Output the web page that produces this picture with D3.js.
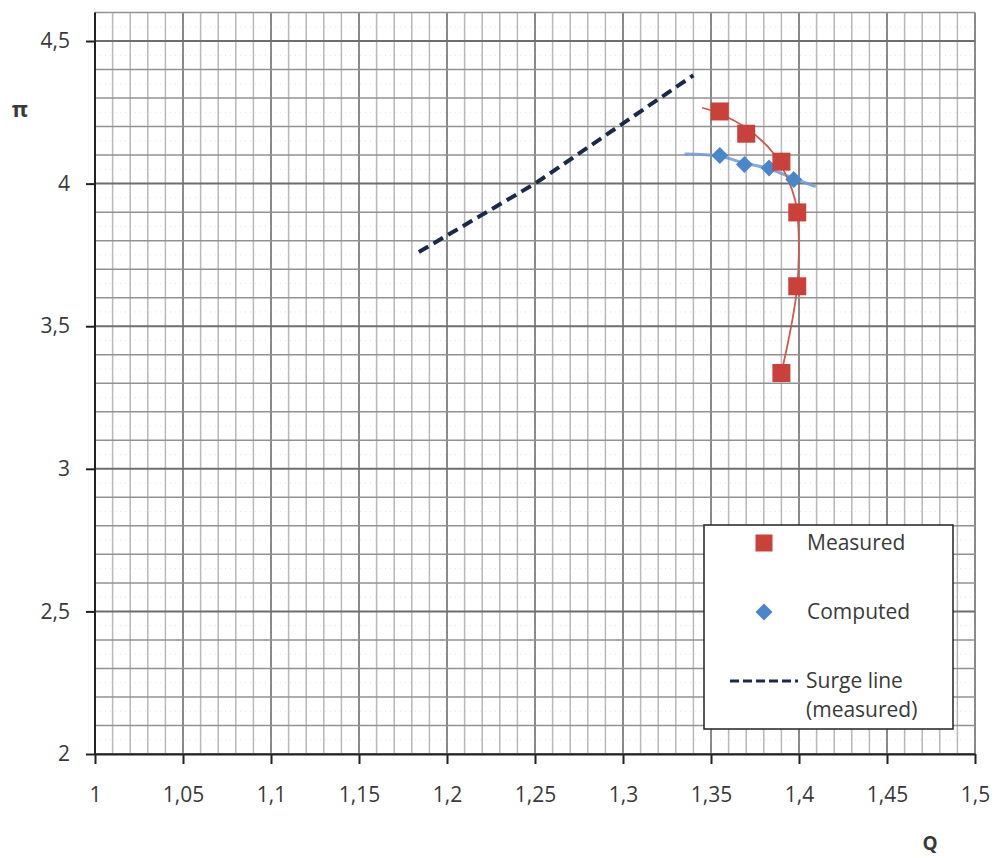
<!DOCTYPE html>
<html>
<head>
<meta charset="utf-8">
<script src="https://cdn.jsdelivr.net/npm/d3@7"></script>
<style>
  body { margin: 0; background: #fff; }
  text { font-family: "Open Sans", sans-serif; fill: #3a3a3a; }
</style>
</head>
<body>
<svg id="svg" width="995" height="858"></svg>
<script>
// values
var xTicks = [1, 1.05, 1.1, 1.15, 1.2, 1.25, 1.3, 1.35, 1.4, 1.45, 1.5];
var yTicks = [2, 2.5, 3, 3.5, 4, 4.5];

var measuredQ  = [1.355, 1.370, 1.390, 1.399, 1.399, 1.390];
var measuredPi = [4.253, 4.175, 4.077, 3.899, 3.640, 3.336];

var computedQ  = [1.355, 1.369, 1.383, 1.397];
var computedPi = [4.099, 4.067, 4.055, 4.014];

// trend lines (as drawn in the picture)
var measuredFitQ  = [1.345, 1.355, 1.370, 1.385, 1.396, 1.399, 1.399, 1.390];
var measuredFitPi = [4.266, 4.245, 4.195, 4.110, 3.980, 3.899, 3.640, 3.336];
var computedFitQ  = [1.335, 1.355, 1.369, 1.383, 1.397, 1.4095];
var computedFitPi = [4.104, 4.096, 4.072, 4.052, 4.018, 3.990];

var surgeQ  = [1.184, 1.25, 1.34];
var surgePi = [3.76, 4.0, 4.38];

var legendLabels = ["Measured", "Computed", "Surge line", "(measured)"];

var svg = d3.select("#svg");

var x = d3.scaleLinear().domain([1, 1.5]).range([95, 975]);
var y = d3.scaleLinear().domain([2, 4.6]).range([754, 12.5]);

var comma = function(d) { return String(+d.toFixed(2)).replace(".", ","); };

// grid
var grid = svg.append("g");
grid.selectAll("line.hdot")
  .data(d3.range(2.05, 4.6, 0.1))
  .enter().append("line")
  .attr("x1", 95).attr("x2", 975)
  .attr("y1", function(d) { return y(d); }).attr("y2", function(d) { return y(d); })
  .attr("stroke", "#e4e4e4").attr("stroke-width", 1).attr("stroke-dasharray", "1,4");

grid.selectAll("line.v")
  .data(d3.range(1, 1.5001, 0.01))
  .enter().append("line")
  .attr("x1", function(d) { return x(d); }).attr("x2", function(d) { return x(d); })
  .attr("y1", y(4.6)).attr("y2", y(2))
  .attr("stroke", function(d, i) { return i % 5 == 0 ? "#8a8a8a" : "#b8b8b8"; })
  .attr("stroke-width", function(d, i) { return i % 5 == 0 ? 2 : 1.5; });

grid.selectAll("line.h")
  .data(d3.range(2, 4.6001, 0.1))
  .enter().append("line")
  .attr("x1", 95).attr("x2", 975)
  .attr("y1", function(d) { return y(d); }).attr("y2", function(d) { return y(d); })
  .attr("stroke", function(d, i) { return i % 5 == 0 ? "#6e6e6e" : "#929292"; })
  .attr("stroke-width", function(d, i) { return i % 5 == 0 ? 2 : 1.5; });

// axes
var xAxis = svg.append("g")
  .attr("transform", "translate(0,754)")
  .call(d3.axisBottom(x).tickValues(xTicks).tickFormat(comma).tickSize(10).tickSizeOuter(0).tickPadding(23));
var yAxis = svg.append("g")
  .attr("transform", "translate(95,0)")
  .call(d3.axisLeft(y).tickValues(yTicks).tickFormat(comma).tickSize(9).tickSizeOuter(0).tickPadding(16));

[xAxis, yAxis].forEach(function(a) {
  a.selectAll("path.domain").attr("stroke", "#222").attr("stroke-width", 2);
  a.selectAll(".tick line").attr("stroke", "#222").attr("stroke-width", 2);
  a.selectAll("text").attr("font-size", 21).attr("font-family", "Open Sans").attr("fill", "#3a3a3a");
});
yAxis.select("path.domain").attr("d", "M0," + y(4.6) + "V754");

svg.append("text").attr("x", 20).attr("y", 117).attr("text-anchor", "middle")
  .attr("font-size", 22).attr("font-weight", "bold").text("π");
svg.append("text").attr("x", 930).attr("y", 850).attr("text-anchor", "middle")
  .attr("font-size", 19).attr("font-weight", "bold").text("Q");

var zip = function(a, b) { return a.map(function(v, i) { return [v, b[i]]; }); };
var line = d3.line().x(function(d) { return x(d[0]); }).y(function(d) { return y(d[1]); });

// surge line
svg.append("path").datum(zip(surgeQ, surgePi))
  .attr("d", line).attr("fill", "none")
  .attr("stroke", "#1c2a4a").attr("stroke-width", 4).attr("stroke-dasharray", "11,6");

// trend lines
svg.append("path").datum(zip(computedFitQ, computedFitPi))
  .attr("d", line.curve(d3.curveCatmullRom)).attr("fill", "none")
  .attr("stroke", "#6e9bd6").attr("stroke-width", 3).attr("opacity", 0.85);
svg.append("path").datum(zip(measuredFitQ, measuredFitPi))
  .attr("d", line.curve(d3.curveCatmullRom)).attr("fill", "none")
  .attr("stroke", "#d2574d").attr("stroke-width", 1.8);

// markers
var square = d3.symbol().type(d3.symbolSquare).size(18 * 18);
var diamond = "M0,-8.5L8.5,0L0,8.5L-8.5,0Z";

svg.selectAll("path.c")
  .data(zip(computedQ, computedPi))
  .enter().append("path")
  .attr("transform", function(d) { return "translate(" + x(d[0]) + "," + y(d[1]) + ")"; })
  .attr("d", diamond).attr("fill", "#4a86cc");

svg.selectAll("path.m")
  .data(zip(measuredQ, measuredPi))
  .enter().append("path")
  .attr("transform", function(d) { return "translate(" + x(d[0]) + "," + y(d[1]) + ")"; })
  .attr("d", square).attr("fill", "#c8413a");

// legend
var lg = svg.append("g");
lg.append("rect").attr("x", 704).attr("y", 525).attr("width", 249).attr("height", 204)
  .attr("fill", "#fff").attr("stroke", "#222").attr("stroke-width", 1.5);
lg.append("path").attr("transform", "translate(764,543)")
  .attr("d", d3.symbol().type(d3.symbolSquare).size(17 * 17)).attr("fill", "#c8413a");
lg.append("path").attr("transform", "translate(764,612)")
  .attr("d", diamond).attr("fill", "#4a86cc");
lg.append("line").attr("x1", 730).attr("x2", 798).attr("y1", 681).attr("y2", 681)
  .attr("stroke", "#1c2a4a").attr("stroke-width", 3).attr("stroke-dasharray", "9,4");
var ly = [550, 619, 688, 717];
var lx = [807, 807, 806, 806];
lg.selectAll("text.l").data(legendLabels).enter().append("text")
  .attr("x", function(d, i) { return lx[i]; }).attr("y", function(d, i) { return ly[i]; })
  .attr("font-size", 21).text(function(d) { return d; });
</script>
</body>
</html>
